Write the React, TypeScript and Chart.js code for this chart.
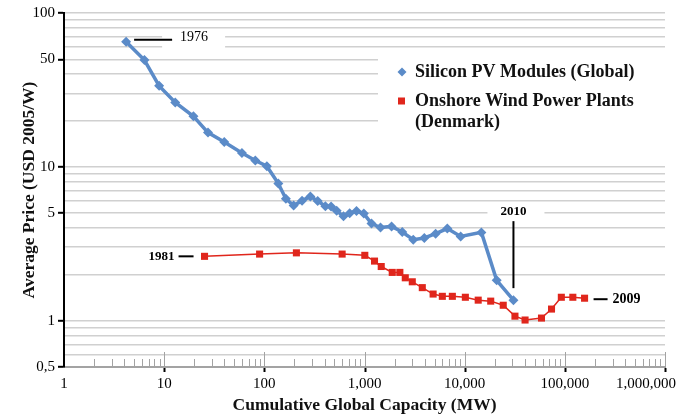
import React, { useEffect, useRef } from 'react';
import { Chart, registerables } from 'chart.js';

Chart.register(...registerables);

// ---- Data ----
const pvCapacity = [4.17, 6.35, 8.91, 12.9, 19.6, 27.4, 39.8, 59.8, 81.3, 106, 138, 164, 196, 238, 288, 341, 407, 464, 528, 617, 711, 832, 984, 1175, 1445, 1862, 2382, 3069, 3954, 5129, 6714, 9120, 14690, 20890, 30690];
const pvPrice = [65.0, 49.4, 33.6, 26.2, 21.3, 16.7, 14.5, 12.3, 11.0, 10.1, 7.78, 6.2, 5.6, 6.03, 6.41, 5.99, 5.54, 5.52, 5.18, 4.77, 4.99, 5.16, 4.97, 4.28, 4.03, 4.1, 3.77, 3.36, 3.45, 3.68, 3.97, 3.53, 3.75, 1.83, 1.36];

const windCapacity = [25.3, 89.7, 209, 598, 1007, 1259, 1469, 1892, 2254, 2553, 2999, 3776, 4842, 5984, 7534, 10160, 13650, 18200, 24270, 31770, 40090, 58480, 73620, 92260, 120200, 157400];
const windPrice = [2.62, 2.71, 2.76, 2.71, 2.66, 2.44, 2.25, 2.06, 2.06, 1.9, 1.79, 1.64, 1.49, 1.44, 1.44, 1.42, 1.36, 1.34, 1.26, 1.07, 1.01, 1.04, 1.19, 1.42, 1.42, 1.4];

const seriesLabels = ['Silicon PV Modules (Global)', 'Onshore Wind Power Plants (Denmark)'];

const xLabelValues = [1, 10, 100, 1000, 10000, 100000, 1000000];
const yGridValues = [0.5, 0.6, 0.7, 0.8, 0.9, 1, 2, 3, 4, 5, 6, 7, 8, 9, 10, 20, 30, 40, 50, 60, 70, 80, 90, 100];
const yLabelValues = [0.5, 1, 5, 10, 50, 100];

const yearLabels = { pvFirst: '1976', pvLast: '2010', windFirst: '1981', windLast: '2009' };

const xTitle = 'Cumulative Global Capacity (MW)';
const yTitle = 'Average Price (USD 2005/W)';

// ---- Styles ----
const FONT = '"Liberation Serif", "DejaVu Serif", serif';
const PV_COLOR = '#5b8bc8';
const WIND_COLOR = '#e0261c';
const AXIS_GRAY = '#a3a3a3';

function wrapText(ctx: CanvasRenderingContext2D, text: string, maxWidth: number): string[] {
  const words = text.split(' ');
  const lines: string[] = [];
  let cur = '';
  for (const w of words) {
    const test = cur ? cur + ' ' + w : w;
    if (ctx.measureText(test).width > maxWidth && cur) {
      lines.push(cur);
      cur = w;
    } else {
      cur = test;
    }
  }
  if (cur) lines.push(cur);
  return lines;
}

const overlayPlugin = {
  id: 'overlay',
  beforeDraw(chart: any) {
    // keep the last x label inside the canvas, as in the reference
    const x = chart.scales.x;
    const items = x.getLabelItems(chart.chartArea);
    if (items && items.length) {
      const last = items[items.length - 1];
      last.options.translation[0] -= 19;
    }
  },
  beforeDatasetsDraw(chart: any) {
    const { ctx, chartArea, scales } = chart;
    const x = scales.x;
    const y = scales.y;
    ctx.save();
    // minor / major tick marks along the bottom axis (pointing up)
    const base = chartArea.bottom;
    for (const d of xLabelValues) {
      for (let m = 1; m <= 9; m++) {
        const v = d * m;
        if (v > 1000000 || v <= 1) continue;
        const px = Math.round(x.getPixelForValue(v)) + 0.5;
        ctx.strokeStyle = AXIS_GRAY;
        ctx.lineWidth = 1;
        ctx.beginPath();
        if (m === 1) {
          ctx.moveTo(px, base - 15);
          ctx.lineTo(px, base);
          ctx.stroke();
          ctx.strokeStyle = '#000';
          ctx.lineWidth = 2;
          ctx.beginPath();
          ctx.moveTo(px, base + 1);
          ctx.lineTo(px, base + 5);
        } else {
          ctx.moveTo(px, base - 8);
          ctx.lineTo(px, base);
        }
        ctx.stroke();
      }
    }
    // white background boxes (legend and labels)
    ctx.fillStyle = '#ffffff';
    ctx.fillRect(chartArea.left + 314, chartArea.top + 37, chartArea.right - chartArea.left - 314, 113);
    const p0x = x.getPixelForValue(pvCapacity[0]);
    const p0y = y.getPixelForValue(pvPrice[0]);
    ctx.fillRect(p0x + 36, p0y - 12, 63, 20);
    const pnx = x.getPixelForValue(pvCapacity[pvCapacity.length - 1]);
    const pny = y.getPixelForValue(pvPrice[pvPrice.length - 1]);
    ctx.fillRect(pnx - 26, pny - 97, 57, 17);
    ctx.restore();
  },
  afterDraw(chart: any) {
    const { ctx, chartArea, scales } = chart;
    const x = scales.x;
    const y = scales.y;
    ctx.save();
    // legend
    const lx = chartArea.left + 338;
    let ly = chartArea.top + 59;
    ctx.font = `bold 18px ${FONT}`;
    ctx.textBaseline = 'middle';
    ctx.textAlign = 'left';
    seriesLabels.forEach((label, i) => {
      if (i === 0) {
        ctx.fillStyle = PV_COLOR;
        ctx.beginPath();
        ctx.moveTo(lx, ly - 4.5);
        ctx.lineTo(lx + 4.5, ly);
        ctx.lineTo(lx, ly + 4.5);
        ctx.lineTo(lx - 4.5, ly);
        ctx.closePath();
        ctx.fill();
      } else {
        ctx.fillStyle = WIND_COLOR;
        ctx.fillRect(lx - 4, ly - 3.5, 7, 7);
      }
      ctx.fillStyle = '#111';
      const lines = wrapText(ctx, label, 245);
      lines.forEach((ln, j) => {
        ctx.fillText(ln, lx + 13, ly + j * 21);
      });
      ly += 29 + (lines.length - 1) * 21;
    });

    ctx.strokeStyle = '#000';
    ctx.fillStyle = '#000';
    ctx.lineWidth = 2;
    // 1976
    const p0x = x.getPixelForValue(pvCapacity[0]);
    const p0y = y.getPixelForValue(pvPrice[0]);
    ctx.beginPath();
    ctx.moveTo(p0x + 8, p0y - 2);
    ctx.lineTo(p0x + 46, p0y - 2);
    ctx.stroke();
    ctx.font = `14px ${FONT}`;
    ctx.textAlign = 'left';
    ctx.fillText(yearLabels.pvFirst, p0x + 54, p0y - 4);
    // 1981
    const w0x = x.getPixelForValue(windCapacity[0]);
    const w0y = y.getPixelForValue(windPrice[0]);
    ctx.beginPath();
    ctx.moveTo(w0x - 26, w0y);
    ctx.lineTo(w0x - 11, w0y);
    ctx.stroke();
    ctx.font = `bold 13px ${FONT}`;
    ctx.textAlign = 'right';
    ctx.fillText(yearLabels.windFirst, w0x - 30, w0y);
    // 2010
    const pnx = x.getPixelForValue(pvCapacity[pvCapacity.length - 1]);
    const pny = y.getPixelForValue(pvPrice[pvPrice.length - 1]);
    ctx.beginPath();
    ctx.moveTo(pnx, pny - 79);
    ctx.lineTo(pnx, pny - 12);
    ctx.stroke();
    ctx.textAlign = 'center';
    ctx.fillText(yearLabels.pvLast, pnx, pny - 89);
    // 2009
    const wnx = x.getPixelForValue(windCapacity[windCapacity.length - 1]);
    const wny = y.getPixelForValue(windPrice[windPrice.length - 1]);
    ctx.beginPath();
    ctx.moveTo(wnx + 9, wny + 1);
    ctx.lineTo(wnx + 23, wny + 1);
    ctx.stroke();
    ctx.textAlign = 'left';
    ctx.font = `bold 14px ${FONT}`;
    ctx.fillText(yearLabels.windLast, wnx + 28, wny + 1);
    ctx.restore();
  },
};

export default function App() {
  const canvasRef = useRef<HTMLCanvasElement | null>(null);

  useEffect(() => {
    if (!canvasRef.current) return;
    const pvData = pvCapacity.map((c, i) => ({ x: c, y: pvPrice[i] }));
    const windData = windCapacity.map((c, i) => ({ x: c, y: windPrice[i] }));

    const chart = new Chart(canvasRef.current, {
      type: 'line',
      data: {
        datasets: [
          {
            label: seriesLabels[0],
            data: pvData,
            borderColor: PV_COLOR,
            backgroundColor: PV_COLOR,
            borderWidth: 3.5,
            pointStyle: 'rectRot',
            pointRadius: 5,
            pointBorderWidth: 0,
            tension: 0,
          },
          {
            label: seriesLabels[1],
            data: windData,
            borderColor: WIND_COLOR,
            backgroundColor: WIND_COLOR,
            borderWidth: 1.5,
            pointStyle: 'rect',
            pointRadius: 5,
            pointBorderWidth: 0,
            tension: 0,
          },
        ],
      },
      options: {
        animation: false,
        responsive: false,
        maintainAspectRatio: false,
        layout: { padding: { left: 0, right: 28, top: 13, bottom: 0 } },
        plugins: {
          legend: { display: false },
          tooltip: { enabled: false },
        },
        scales: {
          x: {
            type: 'logarithmic',
            min: 1,
            max: 1000000,
            afterBuildTicks: (s: any) => {
              s.ticks = xLabelValues.map((v) => ({ value: v }));
            },
            afterFit: (s: any) => {
              s.height = 53;
              s.paddingLeft = 0;
              s.paddingRight = 0;
            },
            ticks: {
              autoSkip: false,
              maxRotation: 0,
              padding: 8,
              color: '#000',
              font: { family: FONT, size: 15 },
              callback: (v: any) => Number(v).toLocaleString('en-US'),
            },
            grid: { display: true, color: 'transparent', drawTicks: false },
            border: { color: AXIS_GRAY, width: 2 },
            title: {
              display: true,
              text: xTitle,
              color: '#111',
              font: { family: FONT, size: 17.5, weight: 'bold' },
              padding: { top: 0, bottom: 4 },
            },
          },
          y: {
            type: 'logarithmic',
            min: 0.5,
            max: 100,
            afterBuildTicks: (s: any) => {
              s.ticks = yGridValues.map((v) => ({ value: v }));
            },
            afterFit: (s: any) => {
              s.width = 64;
            },
            ticks: {
              autoSkip: false,
              padding: 3,
              color: '#000',
              font: { family: FONT, size: 15 },
              callback: (v: any) => (yLabelValues.includes(Number(v)) ? String(v).replace('.', ',') : ''),
            },
            grid: {
              color: (c: any) => (c.tick && c.tick.value === 0.5 ? 'transparent' : '#d0d0d0'),
              lineWidth: 1.6,
              tickLength: 6,
              tickWidth: 2,
              tickColor: (c: any) => (c.tick && yLabelValues.includes(c.tick.value) ? '#000' : 'transparent'),
            },
            border: { color: '#000', width: 2 },
            title: {
              display: true,
              text: yTitle,
              color: '#111',
              font: { family: FONT, size: 17.5, weight: 'bold' },
              padding: { top: 19, bottom: 0 },
            },
          },
        },
      },
      plugins: [overlayPlugin],
    } as any);

    return () => chart.destroy();
  }, []);

  return (
    <div style={{ position: 'absolute', left: 0, top: 0, width: 693, height: 420, background: '#fff' }}>
      <canvas ref={canvasRef} width={693} height={420} style={{ display: 'block', width: 693, height: 420 }} />
    </div>
  );
}
